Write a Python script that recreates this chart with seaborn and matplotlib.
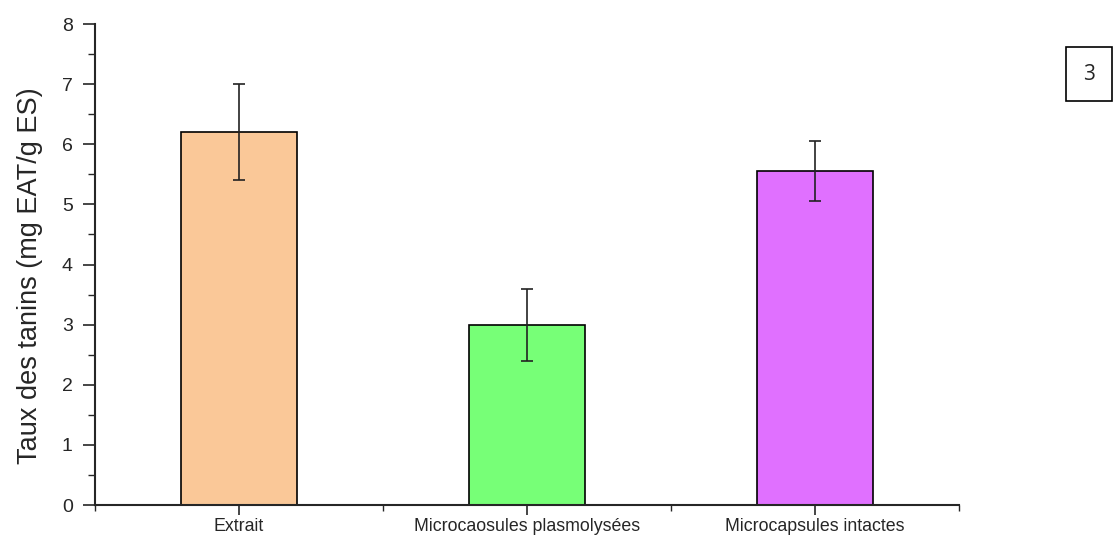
import matplotlib
matplotlib.use('Agg')
import matplotlib.pyplot as plt
import seaborn as sns
from matplotlib.ticker import MultipleLocator, FixedLocator

# Data
categories = ['Extrait', 'Microcaosules plasmolysées', 'Microcapsules intactes']
values = [6.2, 3.0, 5.56]
errors = [0.8, 0.6, 0.5]
colors = ['#FAC898', '#77FF77', '#E070FF']

sns.set_style('ticks')
plt.rcParams['font.family'] = ['Liberation Sans', 'DejaVu Sans']

fig = plt.figure(figsize=(11.15, 5.35), dpi=100)
ax = fig.add_axes([0.0852, 0.056, 0.775, 0.899])

sns.barplot(x=categories, y=values, hue=categories, palette=colors, legend=False,
            width=0.4, edgecolor='black', linewidth=1.2, ax=ax, saturation=1)
ax.errorbar(range(len(categories)), values, yerr=errors, fmt='none',
            ecolor='#222222', elinewidth=1.2, capsize=4.5, capthick=1.2)

ax.set_xlim(-0.5, 2.5)
ax.set_ylim(0, 8)
ax.yaxis.set_major_locator(MultipleLocator(1))
ax.yaxis.set_minor_locator(MultipleLocator(0.5))
ax.xaxis.set_minor_locator(FixedLocator([-0.5, 0.5, 1.5, 2.5]))

ax.tick_params(axis='y', which='major', length=9, width=1.2, labelsize=14, pad=7, direction='out')
ax.tick_params(axis='y', which='minor', length=5, width=1.0)
ax.tick_params(axis='x', which='major', length=7, width=1.2, labelsize=12.8, pad=2)
ax.tick_params(axis='x', which='minor', length=4, width=1.0)

for s in ['left', 'bottom']:
    ax.spines[s].set_linewidth(1.5)
sns.despine(ax=ax)

ax.set_ylabel('Taux des tanins (mg EAT/g ES)', fontsize=19.5)
ax.yaxis.set_label_coords(-0.060, 0.476)
ax.set_xlabel('')

fig.text(1089 / 1115, 1 - 74 / 535, '3', fontsize=15, ha='center', va='center',
         family=['Open Sans', 'DejaVu Sans'],
         bbox=dict(boxstyle='square,pad=0.8', facecolor='white', edgecolor='black', linewidth=1.2))

fig.savefig('out.png', dpi=100)
